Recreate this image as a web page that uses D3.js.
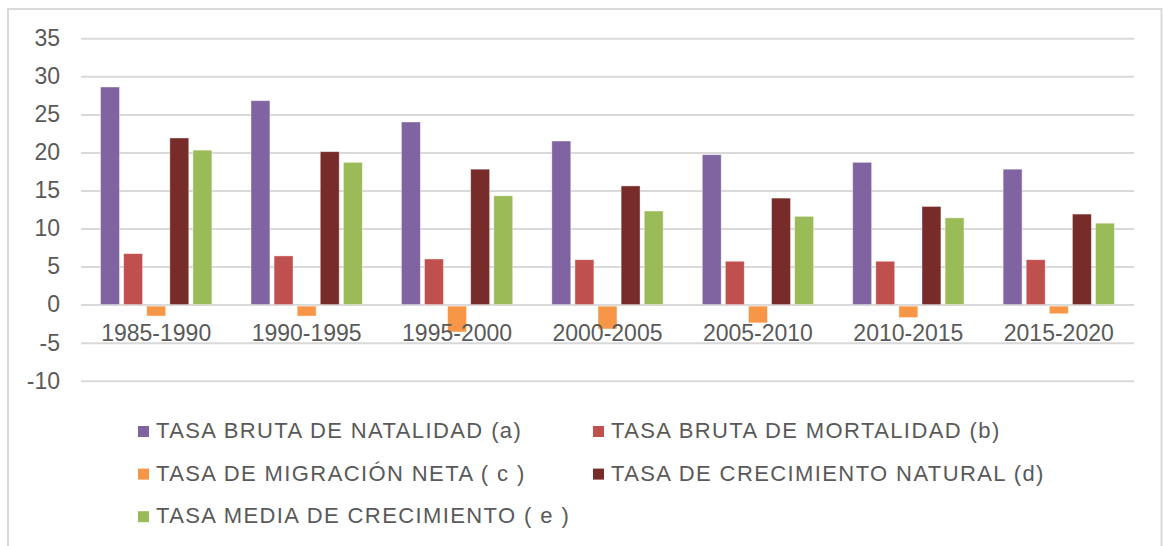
<!DOCTYPE html>
<html>
<head>
<meta charset="utf-8">
<script src="https://cdn.jsdelivr.net/npm/d3@7"></script>
<style>
  body { margin: 0; background: #fff; }
  text { font-family: "Liberation Sans", Arial, sans-serif; fill: #595959; }
</style>
</head>
<body>
<div class="chart"></div>
<script>
var periods = ["1985-1990", "1990-1995", "1995-2000", "2000-2005", "2005-2010", "2010-2015", "2015-2020"];
var seriesNames = [
    "TASA BRUTA DE NATALIDAD (a)",
    "TASA BRUTA DE MORTALIDAD (b)",
    "TASA DE MIGRACIÓN NETA ( c )",
    "TASA DE CRECIMIENTO NATURAL (d)",
    "TASA MEDIA DE CRECIMIENTO ( e )"
];
var natalidad   = [28.6, 26.8, 24.0, 21.5, 19.7, 18.7, 17.8];
var mortalidad  = [6.7, 6.4, 6.0, 5.9, 5.7, 5.7, 5.9];
var migracion   = [-1.5, -1.5, -3.6, -3.2, -2.4, -1.7, -1.2];
var crecNatural = [21.9, 20.1, 17.8, 15.6, 14.0, 12.9, 11.9];
var crecMedia   = [20.3, 18.7, 14.3, 12.3, 11.6, 11.4, 10.7];
var yTicks = [-10, -5, 0, 5, 10, 15, 20, 25, 30, 35];

var seriesValues = [natalidad, mortalidad, migracion, crecNatural, crecMedia];
var colors = ["#8064a2", "#c0504d", "#f79646", "#772c2a", "#9bbb59"];

var W = 1163, H = 546;
var plot = { l: 81, r: 1134, t: 38.3, b: 380.7 };

var svg = d3.select(".chart")
    .append("svg")
    .attr("width", W)
    .attr("height", H);

// chart frame
svg.append("path")
    .attr("d", "M8,546 V9 H1161.5 V546")
    .attr("fill", "none")
    .attr("stroke", "#d9d9d9")
    .attr("stroke-width", 2);

var x0 = d3.scaleBand()
    .domain(periods)
    .range([plot.l, plot.r])
    .paddingInner(0.26)
    .paddingOuter(0.13);

var x1 = d3.scaleBand()
    .domain(d3.range(seriesNames.length))
    .range([0, x0.bandwidth()])
    .paddingInner(0.18);

var y = d3.scaleLinear()
    .domain([-10, 35])
    .range([plot.b, plot.t]);

var yAxis = d3.axisLeft(y)
    .tickValues(yTicks)
    .tickFormat(function(d) { return String(d); })
    .tickSize(-(plot.r - plot.l))
    .tickPadding(21);

var gy = svg.append("g")
    .attr("class", "y axis")
    .attr("transform", "translate(" + plot.l + ",0)")
    .call(yAxis);
gy.select(".domain").remove();
gy.selectAll(".tick line").attr("stroke", "#d9d9d9").attr("stroke-width", 2);
gy.selectAll(".tick text")
    .attr("font-size", 23)
    .attr("font-family", "Liberation Sans, Arial, sans-serif")
    .attr("fill", "#595959");

// bars
var rows = periods.map(function(p, i) {
    return { period: p, values: seriesValues.map(function(s) { return s[i]; }) };
});

var group = svg.selectAll("g.grp")
    .data(rows)
    .enter().append("g")
    .attr("class", "grp")
    .attr("transform", function(d) { return "translate(" + x0(d.period) + ",0)"; });

group.selectAll("rect")
    .data(function(d) { return d.values; })
    .enter().append("rect")
    .attr("x", function(d, i) { return x1(i); })
    .attr("width", x1.bandwidth())
    .attr("y", function(d) { return d >= 0 ? y(d) : y(0) + 1.5; })
    .attr("height", function(d) { return d >= 0 ? y(0) - y(d) : y(d) - y(0) - 1.5; })
    .attr("fill", function(d, i) { return colors[i]; })
    .attr("stroke", "#fff")
    .attr("stroke-opacity", 0.5)
    .attr("stroke-width", 0.8);

// category labels
svg.selectAll("text.cat")
    .data(periods)
    .enter().append("text")
    .attr("class", "cat")
    .attr("x", function(d) { return x0(d) + x0.bandwidth() / 2; })
    .attr("y", 341)
    .attr("text-anchor", "middle")
    .attr("font-size", 23)
    .text(function(d) { return d; });

// legend
var legend = svg.selectAll("g.legend")
    .data(seriesNames)
    .enter().append("g")
    .attr("class", "legend")
    .attr("transform", function(d, i) {
        return "translate(" + (i % 2 === 0 ? 138 : 593) + "," + (438 + Math.floor(i / 2) * 42.6) + ")";
    });

legend.append("rect")
    .attr("x", 0)
    .attr("y", -12)
    .attr("width", 11)
    .attr("height", 11)
    .attr("fill", function(d, i) { return colors[i]; });

legend.append("text")
    .attr("x", 18)
    .attr("y", 0)
    .attr("font-size", 22)
    .attr("letter-spacing", 1.4)
    .text(function(d) { return d; });
</script>
</body>
</html>
